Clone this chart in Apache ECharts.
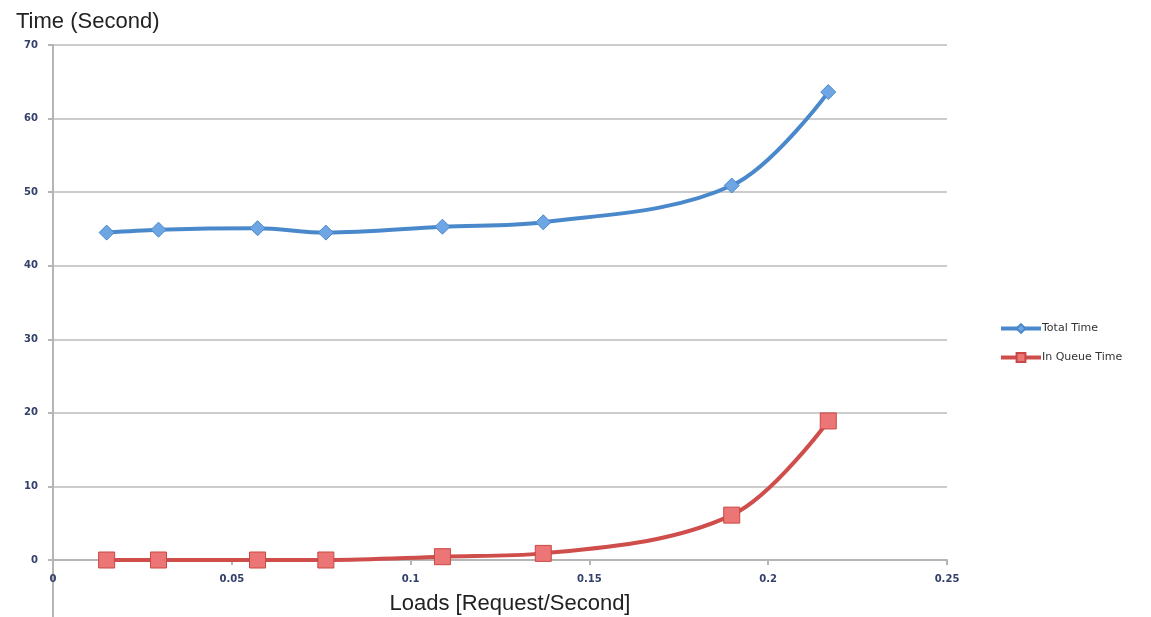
<!DOCTYPE html>
<html>
<head>
<meta charset="utf-8">
<style>
html, body { margin: 0; padding: 0; background: #fff; }
#main { width: 1151px; height: 617px; }
</style>
<script src="https://cdn.jsdelivr.net/npm/echarts@6/dist/echarts.min.js"></script>
</head>
<body>
<div id="main"></div>
<script>
var myChart = echarts.init(document.getElementById('main'));

// loads (request/second)
var loads = [0.015, 0.0295, 0.0572, 0.0763, 0.1089, 0.1371, 0.1898, 0.2168];
var totalTime = [44.5, 44.9, 45.1, 44.5, 45.3, 45.9, 50.9, 63.6];
var queueTime = [0, 0, 0, 0, 0.45, 0.9, 6.1, 18.9];
var seriesNames = ['Total Time', 'In Queue Time'];

function pairs(xs, ys) {
	var out = [];
	for (let i = 0; i < xs.length; i++) {
		out.push([xs[i], ys[i]]);
	}
	return out;
}

var labelStyle = {
	color: '#33416a',
	fontFamily: 'DejaVu Sans',
	fontSize: 10,
	fontWeight: 'bold'
};

option = {
	animation: false,
	backgroundColor: '#fff',
	title: {
		text: 'Time (Second)',
		left: 11,
		top: 6,
		textStyle: {
			fontFamily: 'Liberation Sans',
			fontSize: 22,
			fontWeight: 'normal',
			color: '#222'
		}
	},
	legend: {
		orient: 'vertical',
		left: 994,
		top: 318,
		itemWidth: 40,
		itemHeight: 11,
		itemGap: 18,
		data: seriesNames,
		lineStyle: { width: 4 },
		textStyle: {
			fontFamily: 'DejaVu Sans',
			fontSize: 11,
			color: '#333',
			padding: [0, 0, 0, -4]
		}
	},
	grid: {
		left: 53,
		right: 204,
		top: 45,
		bottom: 57,
		outerBoundsMode: 'none',
		containLabel: false
	},
	xAxis: {
		type: 'value',
		min: 0,
		max: 0.25,
		interval: 0.05,
		name: 'Loads [Request/Second]',
		nameLocation: 'middle',
		nameGap: 33,
		nameTextStyle: {
			fontFamily: 'Liberation Sans',
			fontSize: 22,
			color: '#222',
			padding: [0, 0, 0, 20]
		},
		axisLine: { show: true, lineStyle: { color: '#b5b5b5', width: 2 } },
		axisTick: { show: true, inside: false, length: 5, lineStyle: { color: '#b5b5b5', width: 2 } },
		axisLabel: Object.assign({ margin: 14 }, labelStyle),
		splitLine: { show: false }
	},
	yAxis: {
		type: 'value',
		min: 0,
		max: 70,
		interval: 10,
		axisLine: { show: true, lineStyle: { color: '#b5b5b5', width: 2 } },
		axisTick: { show: true, length: 5, lineStyle: { color: '#b5b5b5', width: 2 } },
		axisLabel: Object.assign({ margin: 15 }, labelStyle),
		splitLine: { show: true, lineStyle: { color: '#cccccc', width: 2 } }
	},
	series: [{
		name: seriesNames[0],
		type: 'line',
		smooth: 0.35,
		data: pairs(loads, totalTime),
		symbol: 'diamond',
		symbolSize: 15,
		lineStyle: { color: '#4a88cc', width: 4 },
		itemStyle: { color: '#6ea6e4', borderColor: '#4a88cc', borderWidth: 1 },
		z: 3
	}, {
		name: seriesNames[1],
		type: 'line',
		smooth: 0.35,
		data: pairs(loads, queueTime),
		symbol: 'rect',
		symbolSize: 16,
		lineStyle: { color: '#cf4e4b', width: 4 },
		itemStyle: { color: '#ec7676', borderColor: '#c94845', borderWidth: 1 },
		z: 3
	}]
};
myChart.setOption(option);

// y axis line carries on below the x axis, down to the bottom edge
var p0 = myChart.convertToPixel({ gridIndex: 0 }, [0, 0]);
myChart.setOption({
	graphic: [{
		type: 'line',
		shape: { x1: p0[0], y1: p0[1], x2: p0[0], y2: 617 },
		style: { stroke: '#b5b5b5', lineWidth: 2 },
		silent: true
	}]
});
</script>
</body>
</html>
